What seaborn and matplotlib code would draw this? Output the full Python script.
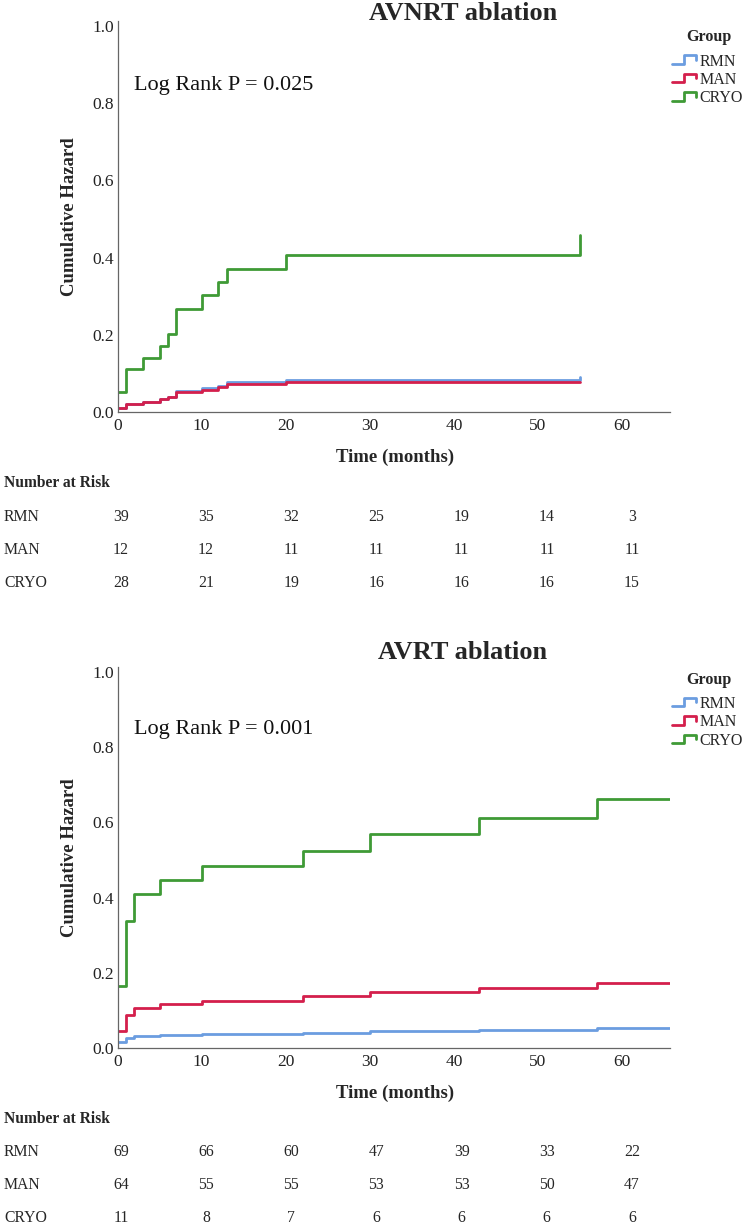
import numpy as np
import pandas as pd
import seaborn as sns
import matplotlib.pyplot as plt
from matplotlib import transforms
from matplotlib.lines import Line2D
from matplotlib.legend_handler import HandlerBase

# ---- data ----
groups = ["RMN", "MAN", "CRYO"]
colors = ["#6b9de0", "#d41f4c", "#3f9a36"]

avnrt_time = [0, 1, 3, 5, 6, 7, 10, 12, 13, 20, 55]
avnrt_rmn = [0.010, 0.022, 0.027, 0.033, 0.040, 0.055, 0.061, 0.068, 0.077, 0.083, 0.091]
avnrt_man = [0.010, 0.021, 0.027, 0.033, 0.039, 0.051, 0.057, 0.064, 0.072, 0.078, 0.078]
avnrt_cryo = [0.053, 0.111, 0.141, 0.172, 0.203, 0.268, 0.302, 0.336, 0.370, 0.407, 0.458]

avrt_time = [0, 1, 2, 5, 10, 22, 30, 43, 57, 65.7]
avrt_rmn = [0.015, 0.027, 0.032, 0.035, 0.038, 0.041, 0.045, 0.048, 0.052, 0.052]
avrt_man = [0.044, 0.088, 0.107, 0.116, 0.126, 0.137, 0.148, 0.159, 0.172, 0.172]
avrt_cryo = [0.165, 0.337, 0.409, 0.446, 0.484, 0.525, 0.568, 0.612, 0.663, 0.663]

risk_times = [0, 10, 20, 30, 40, 50, 60]
avnrt_risk_rmn = [39, 35, 32, 25, 19, 14, 3]
avnrt_risk_man = [12, 12, 11, 11, 11, 11, 11]
avnrt_risk_cryo = [28, 21, 19, 16, 16, 16, 15]
avrt_risk_rmn = [69, 66, 60, 47, 39, 33, 22]
avrt_risk_man = [64, 55, 55, 53, 53, 50, 47]
avrt_risk_cryo = [11, 8, 7, 6, 6, 6, 6]


class StepHandler(HandlerBase):
    # little step icon like the SPSS legend
    def create_artists(self, legend, orig_handle, xdescent, ydescent,
                       width, height, fontsize, trans):
        x0, y0 = -xdescent, -ydescent
        xs = [x0, x0 + 0.45 * width, x0 + 0.45 * width, x0 + 0.95 * width, x0 + 0.95 * width]
        ys = [y0 + 0.1 * height, y0 + 0.1 * height, y0 + 0.95 * height,
              y0 + 0.95 * height, y0 + 0.5 * height]
        ln = Line2D(xs, ys, color=orig_handle.get_color(),
                    lw=orig_handle.get_linewidth(), transform=trans)
        return [ln]


def _frame(time, series):
    rows = []
    for g, vals in zip(groups, series):
        for t, v in zip(time, vals):
            rows.append({"time": t, "hazard": v, "group": g})
    return pd.DataFrame(rows)


sns.set_theme(style="white")
plt.rcParams["font.family"] = ["Liberation Serif", "DejaVu Serif"]

W, H = 745, 1226
fig = plt.figure(figsize=(W / 100, H / 100), dpi=100)


def px(x, y):
    return x / W, 1 - y / H


panels = [
    dict(title="AVNRT ablation", time=avnrt_time, series=[avnrt_rmn, avnrt_man, avnrt_cryo],
         p="Log Rank P = 0.025", risk=[avnrt_risk_rmn, avnrt_risk_man, avnrt_risk_cryo],
         y0=412, unit=386, title_y=19.5, group_y=37, leg_y=53.5, xlab_y=457, nar_y=483,
         rows_y=[517, 550, 583]),
    dict(title="AVRT ablation", time=avrt_time, series=[avrt_rmn, avrt_man, avrt_cryo],
         p="Log Rank P = 0.001", risk=[avrt_risk_rmn, avrt_risk_man, avrt_risk_cryo],
         y0=1048, unit=376, title_y=659, group_y=680, leg_y=696, xlab_y=1093, nar_y=1119,
         rows_y=[1152, 1185, 1218]),
]

xmax = 65.7
ytop = 1.013
left_px, right_px = 117.5, 670

for pnl in panels:
    top_px = pnl["y0"] - ytop * pnl["unit"]
    ax = fig.add_axes([left_px / W, 1 - pnl["y0"] / H,
                       (right_px - left_px) / W, (pnl["y0"] - top_px) / H])
    df = _frame(pnl["time"], pnl["series"])
    sns.lineplot(data=df, x="time", y="hazard", hue="group", hue_order=groups,
                 palette=colors, drawstyle="steps-post", estimator=None,
                 linewidth=2.0, legend=False, ax=ax)
    ax.set_xlim(0, xmax)
    ax.set_ylim(0, ytop)
    ax.set_xticks(risk_times)
    ax.set_yticks([0, 0.2, 0.4, 0.6, 0.8, 1.0])
    ax.set_yticklabels(["0.0", "0.2", "0.4", "0.6", "0.8", "1.0"])
    ax.tick_params(axis="both", length=0, labelsize=12.5, colors="#222222")
    ax.tick_params(axis="x", pad=4)
    ax.tick_params(axis="y", pad=2.5)
    ax.set_xlabel("")
    ax.set_ylabel("")
    sns.despine(ax=ax)
    for s in ["left", "bottom"]:
        ax.spines[s].set_color("#666666")
        ax.spines[s].set_linewidth(0.9)

    ax.text(0.029, 0.835, pnl["p"], transform=ax.get_yaxis_transform(),
            fontsize=16, va="baseline", ha="left", color="#111111")

    fig.text(*px(463, pnl["title_y"]), pnl["title"], ha="center", va="baseline",
             fontsize=19, fontweight="bold")
    fig.text(*px(70, (pnl["y0"] + top_px) / 2), "Cumulative Hazard", rotation=90,
             ha="center", va="center", fontsize=13.5, fontweight="bold")
    fig.text(*px(395, pnl["xlab_y"]), "Time (months)", ha="center", va="center",
             fontsize=13.5, fontweight="bold")

    # legend: title as its own text so the gap under it matches
    fig.text(*px(709, pnl["group_y"]), "Group", ha="center", va="center",
             fontsize=11.5, fontweight="bold")
    handles = [Line2D([], [], color=c, lw=2.0) for c in colors]
    fig.legend(handles, groups, loc="upper left",
               bbox_to_anchor=px(672, pnl["leg_y"]), frameon=False,
               fontsize=11.5, handler_map={Line2D: StepHandler()}, handlelength=1.6,
               handleheight=0.6, handletextpad=0.1, labelspacing=0.15,
               borderpad=0, borderaxespad=0)

    # number at risk table
    fig.text(*px(4, pnl["nar_y"]), "Number at Risk", ha="left", va="center",
             fontsize=11.2, fontweight="bold")
    tr = transforms.blended_transform_factory(ax.transData, fig.transFigure)
    for g, counts, ry in zip(groups, pnl["risk"], pnl["rows_y"]):
        fig.text(*px(4, ry), g, ha="left", va="center", fontsize=11.3)
        for t, n in zip(risk_times, counts):
            fig.text(t * 1.013 + 0.4, 1 - ry / H, str(n), transform=tr,
                     ha="center", va="center", fontsize=11.3)

fig.savefig("out.png", dpi=100)
